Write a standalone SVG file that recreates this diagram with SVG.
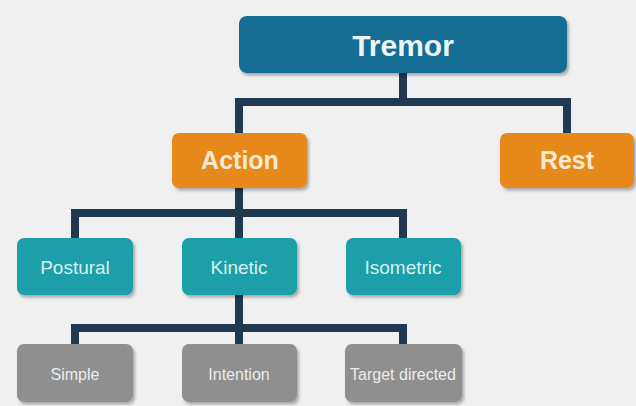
<svg xmlns="http://www.w3.org/2000/svg" width="636" height="406" viewBox="0 0 636 406">
<defs>
<filter id="sh" x="-10%" y="-10%" width="130%" height="140%">
<feDropShadow dx="2" dy="2.5" stdDeviation="1.5" flood-color="#000" flood-opacity="0.3"/>
</filter>
</defs>
<style>
.bx{filter:url(#sh)}
.blue{fill:#136d93}
.org{fill:#e8891f}
.teal{fill:#1c9fa9}
.gray{fill:#8f8f8f}
.ln{stroke:#1f3a50;stroke-width:8;fill:none;stroke-linecap:butt;stroke-linejoin:miter}
text{font-family:"Liberation Sans",Arial,sans-serif;text-anchor:middle}
.t1{font-size:30px;font-weight:bold;fill:#eef4f6}
.t2{font-size:25px;font-weight:bold;fill:#f6ead2}
.t3{font-size:19px;fill:#d8f0ef}
.t4{font-size:16px;fill:#ececec}
</style>
<rect width="636" height="406" fill="#f0f0f0"/>
<g id="connectors">
<path class="ln" d="M403 72V102M235 102H571M239 102V134M567 102V134"/>
<path class="ln" d="M239 187V213M71 213H407M75 213V239M239 213V239M403 213V239"/>
<path class="ln" d="M239 294V328M71 328H407M75 328V345M239 328V345M403 328V345"/>
</g>
<g id="tremor"><rect class="bx blue" x="239" y="16" width="328" height="57" rx="8"/><text class="t1" x="403" y="56">Tremor</text></g>
<g id="action"><rect class="bx org" x="172" y="133" width="135" height="55" rx="7"/><text class="t2" x="240" y="169">Action</text></g>
<g id="rest"><rect class="bx org" x="500" y="133" width="134" height="55" rx="7"/><text class="t2" x="567" y="169">Rest</text></g>
<g id="postural"><rect class="bx teal" x="17" y="238" width="116" height="57" rx="7"/><text class="t3" x="75" y="274">Postural</text></g>
<g id="kinetic"><rect class="bx teal" x="182" y="238" width="115" height="57" rx="7"/><text class="t3" x="239" y="274">Kinetic</text></g>
<g id="isometric"><rect class="bx teal" x="346" y="238" width="115" height="57" rx="7"/><text class="t3" x="403" y="274">Isometric</text></g>
<g id="simple"><rect class="bx gray" x="17" y="344" width="116" height="58" rx="7"/><text class="t4" x="75" y="380">Simple</text></g>
<g id="intention"><rect class="bx gray" x="182" y="344" width="115" height="58" rx="7"/><text class="t4" x="239" y="380">Intention</text></g>
<g id="target"><rect class="bx gray" x="345" y="344" width="117" height="58" rx="7"/><text class="t4" x="403" y="380">Target directed</text></g>
</svg>
